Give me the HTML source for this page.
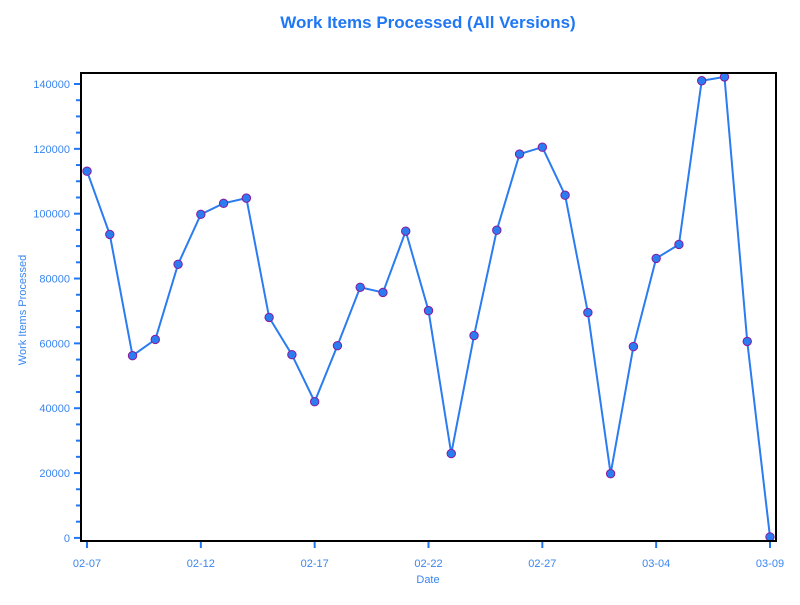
<!DOCTYPE html>
<html><head><meta charset="utf-8"><style>
body{margin:0;background:#fff;font-family:"Liberation Sans",sans-serif}
</style></head><body>
<svg id="chart" width="800" height="600" xmlns="http://www.w3.org/2000/svg">
<text x="428" y="28" text-anchor="middle" font-size="17" font-weight="bold" fill="#1f77f4">Work Items Processed (All Versions)</text>
<g id="axes"></g>
<g id="marks"></g>
<rect x="81" y="73" width="695" height="468" fill="none" stroke="#000" stroke-width="2"/>
<text x="428" y="583" text-anchor="middle" font-size="11" fill="#3a86f0">Date</text>
<text transform="translate(26,310) rotate(-90)" text-anchor="middle" font-size="11" fill="#3a86f0">Work Items Processed</text>
</svg>
<script>
const dates=["02-07","02-08","02-09","02-10","02-11","02-12","02-13","02-14","02-15","02-16","02-17","02-18","02-19","02-20","02-21","02-22","02-23","02-24","02-25","02-26","02-27","02-28","03-01","03-02","03-03","03-04","03-05","03-06","03-07","03-08","03-09"];
const values=[113100,93600,56200,61200,84400,99800,103200,104800,68000,56500,42000,59300,77300,75700,94600,70100,26000,62400,94900,118400,120500,105700,69500,19800,59000,86200,90500,141000,142200,60600,300];
const yTicks=[0,20000,40000,60000,80000,100000,120000,140000];
const xTickLabels=["02-07","02-12","02-17","02-22","02-27","03-04","03-09"];
const NS="http://www.w3.org/2000/svg";
const xScale=i=>87+i*(770-87)/30;
const yScale=v=>537.9-v*(453.9/140000);
const axes=document.getElementById('axes'),marks=document.getElementById('marks');
function mk(tag,attrs,parent){const e=document.createElementNS(NS,tag);for(const k in attrs)e.setAttribute(k,attrs[k]);parent.appendChild(e);return e;}
for(let v=0;v<=140000;v+=5000){
  const major=v%20000===0;
  const t=mk('line',{x1:major?74:76,x2:81,y1:yScale(v),y2:yScale(v),stroke:'#1f77f4','stroke-width':2},axes);
  
  
}
yTicks.forEach(v=>{
  const t=mk('text',{x:70,y:yScale(v)+4,'text-anchor':'end','font-size':11,fill:'#3a86f0'},axes);
  t.textContent=v;
  
  
});
xTickLabels.forEach(d=>{
  const i=dates.indexOf(d);const x=xScale(i);
  const l=mk('line',{x1:x,x2:x,y1:541,y2:548,stroke:'#1f77f4','stroke-width':2},axes);
  
  
  const t=mk('text',{x:x,y:567,'text-anchor':'middle','font-size':11,fill:'#3a86f0'},axes);
  t.textContent=d;
  
  
});
const pl=mk('polyline',{points:values.map((v,i)=>xScale(i)+','+yScale(v)).join(' '),fill:'none',stroke:'#2a7cf0','stroke-width':2},marks);


values.forEach((v,i)=>{
  const c=mk('circle',{cx:xScale(i),cy:yScale(v),r:4.2,fill:'#2a7cf0',stroke:'#8a1a9a','stroke-width':1},marks);
  
  
});
</script>
</body></html>
